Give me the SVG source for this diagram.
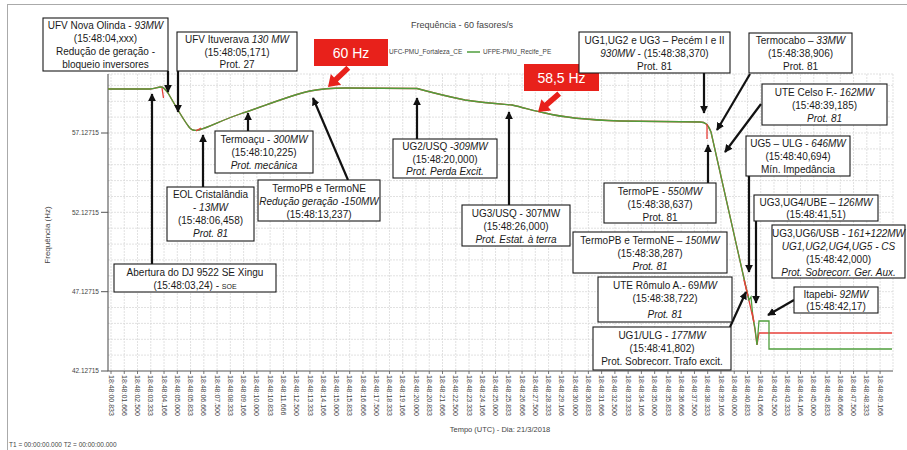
<svg xmlns="http://www.w3.org/2000/svg" xmlns:xlink="http://www.w3.org/1999/xlink" width="907" height="450" viewBox="0 0 907 450">
<defs>
<style>
.bx rect{fill:#fff;stroke:#1a1a1a;stroke-width:1.1}
.t{font-family:"Liberation Sans",Arial,sans-serif;font-size:10px;fill:#1a1a1a;text-anchor:middle}
.i{font-style:italic}
.ax{font-family:"Liberation Sans",Arial,sans-serif;font-size:7px;fill:#444}
.ttl{font-family:"Liberation Sans",Arial,sans-serif;fill:#444}
.grid{stroke:#d9d9d9;stroke-width:0.8;fill:none;stroke-dasharray:2 1}
.arr{stroke:#111;stroke-width:2.2;fill:none;marker-end:url(#ah)}
.hz{font-family:"Liberation Sans",Arial,sans-serif;font-size:14px;fill:#fff;text-anchor:middle}
</style>
<marker id="ah" viewBox="0 0 10 10" refX="9" refY="5" markerWidth="3.6" markerHeight="3.6" orient="auto" markerUnits="strokeWidth"><path d="M0,0L10,5L0,10z" fill="#111"/></marker>
<polygon id="ra" points="0,0 11,-7.5 11,-2.8 28,-2.8 28,2.8 11,2.8 11,7.5" fill="#e8211b"/>
</defs>
<rect width="907" height="450" fill="#fff"/>
<path d="M7,4.5H907M7.5,4V450" stroke="#aaa" stroke-width="1" fill="none"/>
<text class="ttl" x="462" y="28" font-size="9" text-anchor="middle">Frequência - 60 fasores/s</text>
<text class="ttl" x="389" y="54" font-size="6.5">UFC-PMU_Fortaleza_CE</text>
<line x1="467" y1="52" x2="480" y2="52" stroke="#4f9e3c" stroke-width="1.5"/>
<text class="ttl" x="483" y="54" font-size="6.5">UFPE-PMU_Recife_PE</text>
<!-- grid -->
<path class="grid" d="M108,74H893M108,85.4H893M108,101.3H893M108,117.1H893M108,133H893M108,148.9H893M108,164.7H893M108,180.6H893M108,196.5H893M108,212.3H893M108,228.2H893M108,244.1H893M108,259.9H893M108,275.8H893M108,291.7H893M108,307.5H893M108,323.4H893M108,339.3H893M108,355.1H893"/>
<path class="grid" d="M111,74V371M124.26,74V371M137.52,74V371M150.78,74V371M164.04,74V371M177.3,74V371M190.56,74V371M203.82,74V371M217.08,74V371M230.34,74V371M243.6,74V371M256.86,74V371M270.12,74V371M283.38,74V371M296.64,74V371M309.9,74V371M323.16,74V371M336.42,74V371M349.68,74V371M362.94,74V371M376.2,74V371M389.46,74V371M402.72,74V371M415.98,74V371M429.24,74V371M442.5,74V371M455.76,74V371M469.02,74V371M482.28,74V371M495.54,74V371M508.8,74V371M522.06,74V371M535.32,74V371M548.58,74V371M561.84,74V371M575.1,74V371M588.36,74V371M601.62,74V371M614.88,74V371M628.14,74V371M641.4,74V371M654.66,74V371M667.92,74V371M681.18,74V371M694.44,74V371M707.7,74V371M720.96,74V371M734.22,74V371M747.48,74V371M760.74,74V371M774,74V371M787.26,74V371M800.52,74V371M813.78,74V371M827.04,74V371M840.3,74V371M853.56,74V371M866.82,74V371M880.08,74V371M893,74V371"/>
<!-- axes -->
<path d="M108,74V371H893" stroke="#555" stroke-width="1.1" fill="none"/>
<path d="M101,133H108M101,212.3H108M101,291.7H108M101,371H108" stroke="#555" stroke-width="1"/>
<path d="M111,371v3M124.26,371v3M137.52,371v3M150.78,371v3M164.04,371v3M177.3,371v3M190.56,371v3M203.82,371v3M217.08,371v3M230.34,371v3M243.6,371v3M256.86,371v3M270.12,371v3M283.38,371v3M296.64,371v3M309.9,371v3M323.16,371v3M336.42,371v3M349.68,371v3M362.94,371v3M376.2,371v3M389.46,371v3M402.72,371v3M415.98,371v3M429.24,371v3M442.5,371v3M455.76,371v3M469.02,371v3M482.28,371v3M495.54,371v3M508.8,371v3M522.06,371v3M535.32,371v3M548.58,371v3M561.84,371v3M575.1,371v3M588.36,371v3M601.62,371v3M614.88,371v3M628.14,371v3M641.4,371v3M654.66,371v3M667.92,371v3M681.18,371v3M694.44,371v3M707.7,371v3M720.96,371v3M734.22,371v3M747.48,371v3M760.74,371v3M774,371v3M787.26,371v3M800.52,371v3M813.78,371v3M827.04,371v3M840.3,371v3M853.56,371v3M866.82,371v3M880.08,371v3" stroke="#555" stroke-width="0.8"/>
<g class="ax" text-anchor="end">
<text x="99" y="135.3" font-size="6.5">57.12715</text>
<text x="99" y="214.6" font-size="6.5">52.12715</text>
<text x="99" y="294" font-size="6.5">47.12715</text>
<text x="99" y="373.3" font-size="6.5">42.12715</text>
</g>
<text class="ttl" font-size="8" text-anchor="middle" transform="translate(50,235) rotate(-90)">Frequência (Hz)</text>
<g class="ax">
<text transform="translate(108.6,375) rotate(90)">18:48:00.833</text>
<text transform="translate(121.86,375) rotate(90)">18:48:01.666</text>
<text transform="translate(135.12,375) rotate(90)">18:48:02.500</text>
<text transform="translate(148.38,375) rotate(90)">18:48:03.333</text>
<text transform="translate(161.64,375) rotate(90)">18:48:04.166</text>
<text transform="translate(174.9,375) rotate(90)">18:48:05.000</text>
<text transform="translate(188.16,375) rotate(90)">18:48:05.833</text>
<text transform="translate(201.42,375) rotate(90)">18:48:06.666</text>
<text transform="translate(214.68,375) rotate(90)">18:48:07.500</text>
<text transform="translate(227.94,375) rotate(90)">18:48:08.333</text>
<text transform="translate(241.2,375) rotate(90)">18:48:09.166</text>
<text transform="translate(254.46,375) rotate(90)">18:48:10.000</text>
<text transform="translate(267.72,375) rotate(90)">18:48:10.833</text>
<text transform="translate(280.98,375) rotate(90)">18:48:11.666</text>
<text transform="translate(294.24,375) rotate(90)">18:48:12.500</text>
<text transform="translate(307.5,375) rotate(90)">18:48:13.333</text>
<text transform="translate(320.76,375) rotate(90)">18:48:14.166</text>
<text transform="translate(334.02,375) rotate(90)">18:48:15.000</text>
<text transform="translate(347.28,375) rotate(90)">18:48:15.833</text>
<text transform="translate(360.54,375) rotate(90)">18:48:16.666</text>
<text transform="translate(373.8,375) rotate(90)">18:48:17.500</text>
<text transform="translate(387.06,375) rotate(90)">18:48:18.333</text>
<text transform="translate(400.32,375) rotate(90)">18:48:19.166</text>
<text transform="translate(413.58,375) rotate(90)">18:48:20.000</text>
<text transform="translate(426.84,375) rotate(90)">18:48:20.833</text>
<text transform="translate(440.1,375) rotate(90)">18:48:21.666</text>
<text transform="translate(453.36,375) rotate(90)">18:48:22.500</text>
<text transform="translate(466.62,375) rotate(90)">18:48:23.333</text>
<text transform="translate(479.88,375) rotate(90)">18:48:24.166</text>
<text transform="translate(493.14,375) rotate(90)">18:48:25.000</text>
<text transform="translate(506.4,375) rotate(90)">18:48:25.833</text>
<text transform="translate(519.66,375) rotate(90)">18:48:26.666</text>
<text transform="translate(532.92,375) rotate(90)">18:48:27.500</text>
<text transform="translate(546.18,375) rotate(90)">18:48:28.333</text>
<text transform="translate(559.44,375) rotate(90)">18:48:29.166</text>
<text transform="translate(572.7,375) rotate(90)">18:48:30.000</text>
<text transform="translate(585.96,375) rotate(90)">18:48:30.833</text>
<text transform="translate(599.22,375) rotate(90)">18:48:31.666</text>
<text transform="translate(612.48,375) rotate(90)">18:48:32.500</text>
<text transform="translate(625.74,375) rotate(90)">18:48:33.333</text>
<text transform="translate(639,375) rotate(90)">18:48:34.166</text>
<text transform="translate(652.26,375) rotate(90)">18:48:35.000</text>
<text transform="translate(665.52,375) rotate(90)">18:48:35.833</text>
<text transform="translate(678.78,375) rotate(90)">18:48:36.666</text>
<text transform="translate(692.04,375) rotate(90)">18:48:37.500</text>
<text transform="translate(705.3,375) rotate(90)">18:48:38.333</text>
<text transform="translate(718.56,375) rotate(90)">18:48:39.166</text>
<text transform="translate(731.82,375) rotate(90)">18:48:40.000</text>
<text transform="translate(745.08,375) rotate(90)">18:48:40.833</text>
<text transform="translate(758.34,375) rotate(90)">18:48:41.666</text>
<text transform="translate(771.6,375) rotate(90)">18:48:42.500</text>
<text transform="translate(784.86,375) rotate(90)">18:48:43.333</text>
<text transform="translate(798.12,375) rotate(90)">18:48:44.166</text>
<text transform="translate(811.38,375) rotate(90)">18:48:45.000</text>
<text transform="translate(824.64,375) rotate(90)">18:48:45.833</text>
<text transform="translate(837.9,375) rotate(90)">18:48:46.666</text>
<text transform="translate(851.16,375) rotate(90)">18:48:47.500</text>
<text transform="translate(864.42,375) rotate(90)">18:48:48.333</text>
<text transform="translate(877.68,375) rotate(90)">18:48:49.166</text>
</g>
<text class="ttl" x="500" y="432" font-size="7.5" text-anchor="middle">Tempo (UTC) - Dia: 21/3/2018</text>
<text class="ttl" x="9" y="447" font-size="6.5">T1 = 00:00:00.000   T2 = 00:00:00.000</text>
<!-- curves -->
<path d="M108,89L150,89C155,89 157,87 161,87C164,87 165,89 168,93C174,103 182,118 189,127C192,131 195,131 199,130C210,127 222,120 240,114C262,107 285,97 310,91C320,89 328,88 345,88L417,88.5C430,92 445,96 465,100C485,103 500,104 512,105C525,108 535,111 545,113C565,118 590,120 620,121L700,122C705,122 708,124 711,132L745,283L750,305L753,318L755,330L757,345L759,333L892,333" fill="none" stroke="#e8403a" stroke-width="1.3"/>
<path d="M108,89L150,89C155,89 157,87 161,87C164,87 165,89 168,93C174,103 182,118 189,127C192,131 195,131 199,130C210,127 222,120 240,114C262,107 285,97 310,91C320,89 328,88 345,88L417,88.5C430,92 445,96 465,100C485,103 500,104 512,105C525,108 535,111 545,113C565,118 590,120 620,121L700,122C705,122 708,124 711,132L745,283L749,300L751,297L753,318L755,328L757,345L759,321L769,321L769,349L892,349" fill="none" stroke="#4f9e3c" stroke-width="1.3"/>
<path d="M162,88L163.5,98M196,131L201,128M707,124L707,139M744,280L748,296M752,312L754,322" fill="none" stroke="#e8403a" stroke-width="1.3"/>
<!-- red callouts -->
<g id="hz60">
<rect x="314" y="39" width="74" height="27" fill="#e8211b"/>
<text class="hz" x="351" y="58">60 Hz</text>
<use xlink:href="#ra" transform="translate(328,87) rotate(-43.5)"/>
</g>
<g id="hz585">
<rect x="524" y="64" width="75" height="27" fill="#e8211b"/>
<text class="hz" x="561.5" y="83">58,5 Hz</text>
<use xlink:href="#ra" transform="translate(538,112) rotate(-40.8)"/>
</g>
<!-- connectors -->
<g id="connectors">
<line class="arr" x1="168" y1="71" x2="168" y2="92"/>
<line class="arr" x1="178" y1="71" x2="178" y2="112"/>
<line class="arr" x1="152" y1="264" x2="152" y2="94"/>
<line class="arr" x1="203" y1="187" x2="203" y2="135"/>
<line class="arr" x1="248" y1="131" x2="248" y2="113"/>
<line class="arr" x1="348" y1="180" x2="313" y2="98"/>
<line class="arr" x1="417" y1="139" x2="417" y2="98"/>
<line class="arr" x1="509" y1="205" x2="509" y2="112"/>
<line class="arr" x1="704" y1="73" x2="704" y2="113"/>
<line class="arr" x1="750" y1="74" x2="717" y2="130"/>
<line class="arr" x1="761" y1="104" x2="725" y2="152"/>
<line class="arr" x1="749" y1="176" x2="749" y2="272"/>
<line class="arr" x1="708" y1="183" x2="708" y2="145"/>
<line class="arr" x1="730" y1="327" x2="746" y2="292"/>
<line class="arr" x1="756" y1="221" x2="756" y2="303"/>
<line class="arr" x1="794" y1="300" x2="768" y2="315"/>
</g>
<!-- nodes -->
<g id="n-novaolinda" class="bx"><rect x="43" y="18" width="125" height="53"/>
<text class="t" x="105.5" y="28.5">UFV Nova Olinda - <tspan class="i">93MW</tspan></text>
<text class="t" x="105.5" y="41.5">(15:48:04,xxx)</text>
<text class="t" x="105.5" y="54.5">Redução de geração -</text>
<text class="t" x="105.5" y="67.5">bloqueio inversores</text></g>
<g id="n-ituverava" class="bx"><rect x="177" y="32" width="120" height="39"/>
<text class="t" x="237" y="42.5">UFV Ituverava <tspan class="i">130 MW</tspan></text>
<text class="t" x="237" y="55.5">(15:48:05,171)</text>
<text class="t" x="237" y="68">Prot. 27</text></g>
<g id="n-abertura" class="bx"><rect x="114" y="264" width="162" height="28"/>
<text class="t" x="195" y="276">Abertura do DJ 9522 SE Xingu</text>
<text class="t" x="195" y="289">(15:48:03,24) - <tspan font-size="7">SOE</tspan></text></g>
<g id="n-eol" class="bx"><rect x="167" y="187" width="87" height="54"/>
<text class="t" x="210.5" y="198">EOL Cristalândia</text>
<text class="t" x="210.5" y="211">- <tspan class="i">13MW</tspan></text>
<text class="t" x="210.5" y="224">(15:48:06,458)</text>
<text class="t i" x="210.5" y="237">Prot. 81</text></g>
<g id="n-termoacu" class="bx"><rect x="215" y="131" width="98" height="42"/>
<text class="t" x="264" y="143">Termoaçu - <tspan class="i">300MW</tspan></text>
<text class="t" x="264" y="156">(15:48:10,225)</text>
<text class="t i" x="264" y="169">Prot. mecânica</text></g>
<g id="n-termopb1" class="bx"><rect x="258" y="180" width="122" height="41"/>
<text class="t" x="319" y="192">TermoPB  e TermoNE</text>
<text class="t i" x="319" y="205">Redução geração -150MW</text>
<text class="t" x="319" y="218">(15:48:13,237)</text></g>
<g id="n-ug2usq" class="bx"><rect x="393" y="139" width="104" height="39"/>
<text class="t" x="445" y="150">UG2/USQ -<tspan class="i">309MW</tspan></text>
<text class="t" x="445" y="163">(15:48:20,000)</text>
<text class="t i" x="445" y="175">Prot.  Perda Excit.</text></g>
<g id="n-ug3usq" class="bx"><rect x="462" y="205" width="108" height="41"/>
<text class="t" x="516" y="217">UG3/USQ - 307MW</text>
<text class="t" x="516" y="230">(15:48:26,000)</text>
<text class="t i" x="516" y="243">Prot.  Estat.  à terra</text></g>
<g id="n-pecem" class="bx"><rect x="579" y="32" width="151" height="41"/>
<text class="t" x="654.5" y="44">UG1,UG2  e UG3 – Pecém I e II</text>
<text class="t" x="654.5" y="57"><tspan class="i">930MW</tspan> -  (15:48:38,370)</text>
<text class="t" x="654.5" y="70">Prot. 81</text></g>
<g id="n-termocabo" class="bx"><rect x="749" y="33" width="103" height="40"/>
<text class="t" x="800.5" y="44">Termocabo – <tspan class="i">33MW</tspan></text>
<text class="t" x="800.5" y="57">(15:48:38,906)</text>
<text class="t" x="800.5" y="70">Prot. 81</text></g>
<g id="n-celso" class="bx"><rect x="762" y="84" width="125" height="41"/>
<text class="t" x="824.5" y="96">UTE Celso F.- <tspan class="i">162MW</tspan></text>
<text class="t" x="824.5" y="109">(15:48:39,185)</text>
<text class="t i" x="824.5" y="122">Prot. 81</text></g>
<g id="n-ug5ulg" class="bx"><rect x="746" y="136" width="104" height="40"/>
<text class="t" x="798" y="147">UG5 – ULG  - <tspan class="i">646MW</tspan></text>
<text class="t" x="798" y="160">(15:48:40,694)</text>
<text class="t" x="798" y="173">Mín. Impedância</text></g>
<g id="n-termope" class="bx"><rect x="604" y="183" width="112" height="40"/>
<text class="t" x="660" y="195">TermoPE - <tspan class="i">550MW</tspan></text>
<text class="t" x="660" y="208">(15:48:38,637)</text>
<text class="t" x="660" y="221">Prot. 81</text></g>
<g id="n-termopb2" class="bx"><rect x="573" y="232" width="154" height="41"/>
<text class="t" x="650" y="244">TermoPB e TermoNE  – <tspan class="i">150MW</tspan></text>
<text class="t" x="650" y="257">(15:48:38,287)</text>
<text class="t i" x="650" y="270">Prot. 81</text></g>
<g id="n-romulo" class="bx"><rect x="598" y="277" width="134" height="45"/>
<text class="t" x="665" y="289">UTE Rômulo A.- 69<tspan class="i">MW</tspan></text>
<text class="t" x="665" y="302">(15:48:38,722)</text>
<text class="t i" x="665" y="318" font-size="13">Prot. 81</text></g>
<g id="n-ug1ulg" class="bx"><rect x="593" y="327" width="138" height="43"/>
<text class="t" x="662" y="339">UG1/ULG  - <tspan class="i">177MW</tspan></text>
<text class="t" x="662" y="352">(15:48:41,802)</text>
<text class="t" x="662" y="365">Prot. Sobrecorr. Trafo excit.</text></g>
<g id="n-ube" class="bx"><rect x="754" y="195" width="124" height="26"/>
<text class="t" x="816" y="206">UG3,UG4/UBE  – <tspan class="i">126MW</tspan></text>
<text class="t" x="816" y="218">(15:48:41,51)</text></g>
<g id="n-usb" class="bx"><rect x="772" y="225" width="133" height="53"/>
<text class="t" x="838.5" y="237" font-size="9.4">UG3,UG6/USB  - <tspan class="i">161+122MW</tspan></text>
<text class="t i" x="838.5" y="250" font-size="9.6">UG1,UG2,UG4,UG5  - CS</text>
<text class="t" x="838.5" y="263">(15:48:42,000)</text>
<text class="t i" x="838.5" y="276" font-size="9.6">Prot. Sobrecorr. Ger. Aux.</text></g>
<g id="n-itapebi" class="bx"><rect x="794" y="287" width="84" height="26"/>
<text class="t" x="836" y="298">Itapebi- <tspan class="i">92MW</tspan></text>
<text class="t" x="836" y="310">(15:48:42,17)</text></g>
</svg>
